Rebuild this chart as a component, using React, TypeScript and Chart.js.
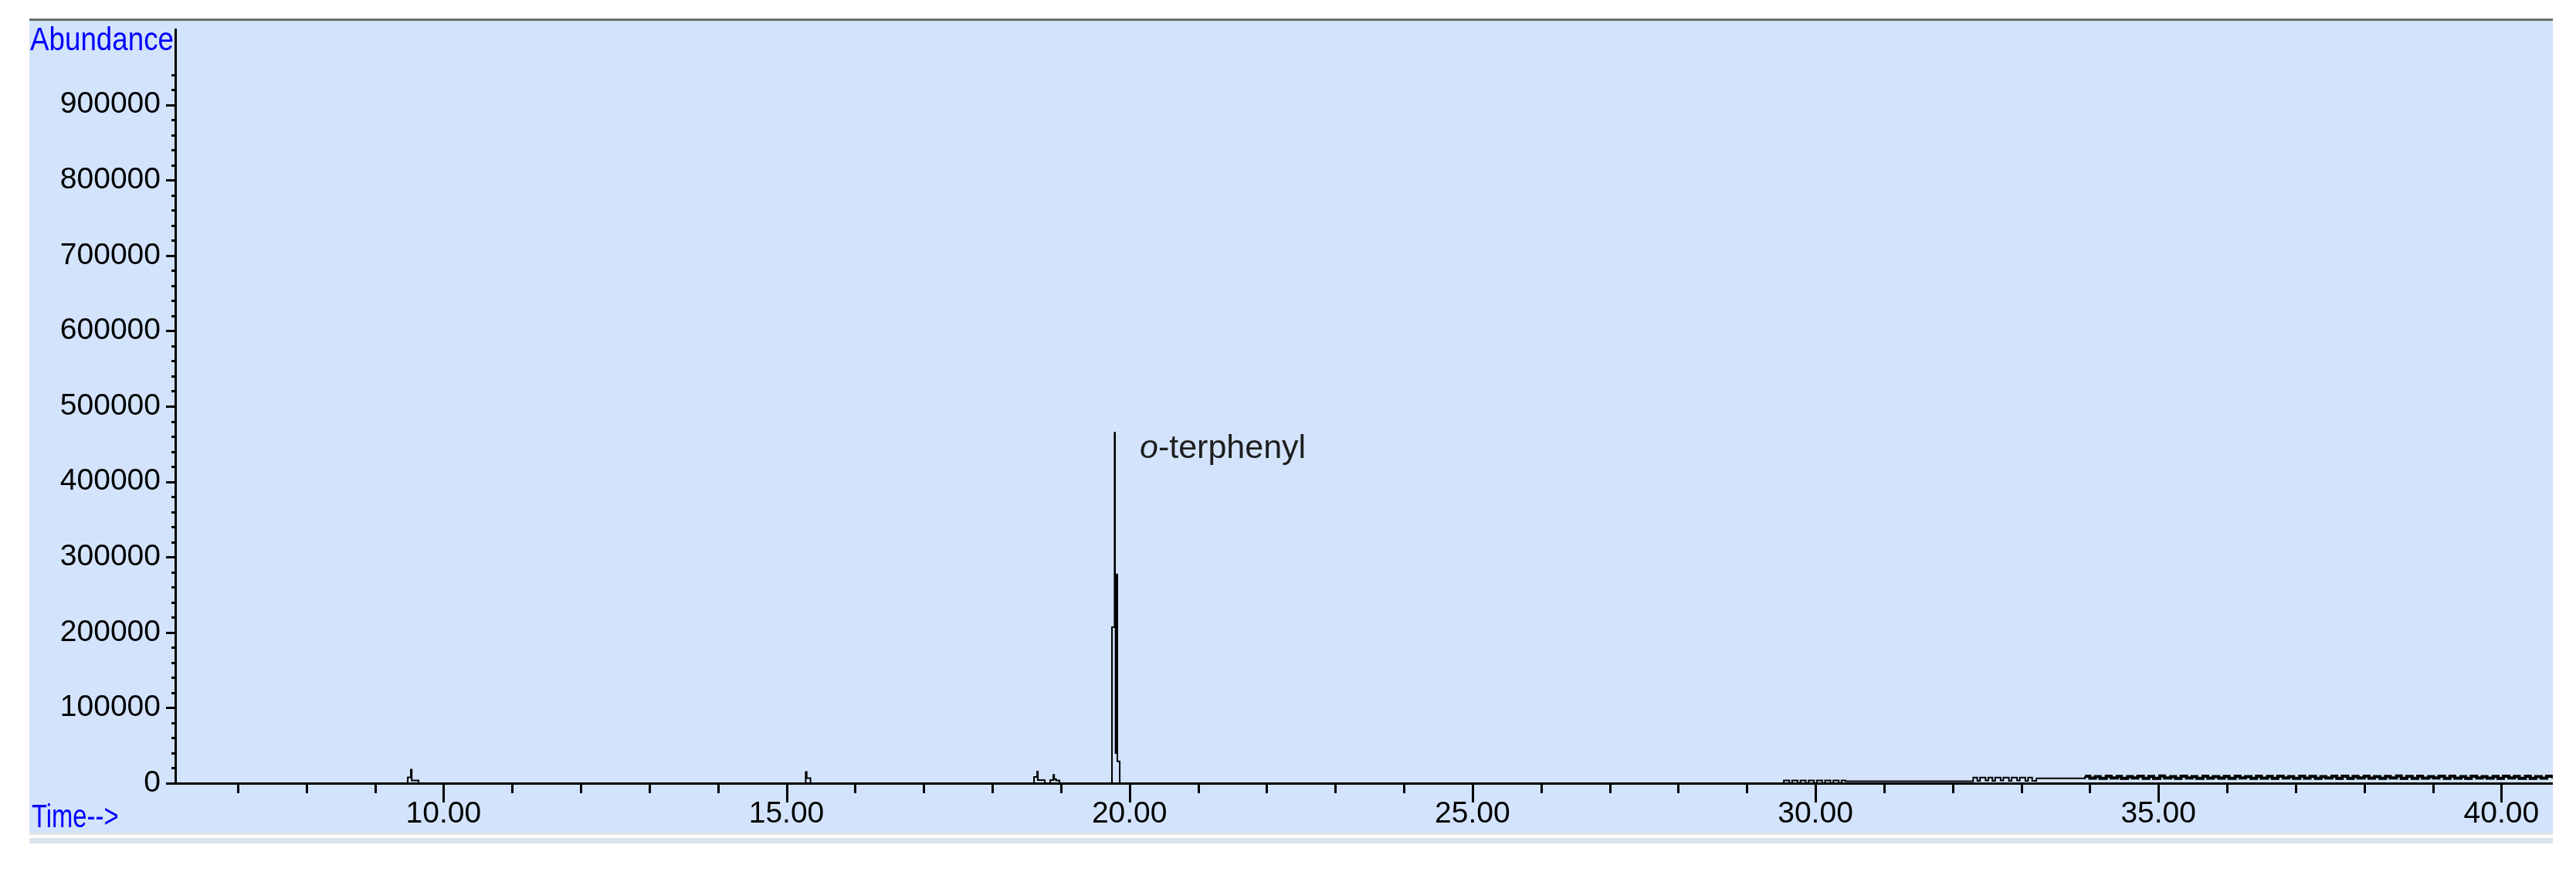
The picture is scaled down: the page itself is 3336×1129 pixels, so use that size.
import React, { useEffect, useRef } from 'react';
import { Chart, registerables } from 'chart.js';

Chart.register(...registerables);

// ---- data (retention time in minutes, abundance) ----
const earlyTimes = [6.09, 9.479, 9.524, 9.537, 9.637, 15.28, 15.295, 15.35, 18.609, 18.654, 18.665, 18.766, 18.845, 18.89, 18.902, 18.93, 18.98];
const earlyAbundance = [0, 7700, 17900, 3600, 0, 14800, 6700, 0, 8200, 15400, 4100, 0, 4100, 11000, 5500, 3500, 0];

const peakTimes = [19.745, 19.783, 19.79, 19.797, 19.803, 19.81, 19.816, 19.823, 19.858];
const peakAbundance = [207000, 465000, 277000, 40000, 277000, 40000, 277000, 29000, 0];

const midTimes = [29.54, 29.62, 29.66, 29.74, 29.78, 29.86, 29.9, 29.98, 30.02, 30.1, 30.14, 30.22, 30.26, 30.34, 30.38, 30.44,
  32.3, 32.36, 32.4, 32.48, 32.52, 32.58, 32.62, 32.7, 32.74, 32.82, 32.86, 32.94, 32.98, 33.06, 33.1, 33.16, 33.22];
const midAbundance = [3500, 0, 3500, 0, 3500, 0, 3500, 0, 3500, 0, 3500, 0, 3500, 0, 3500, 2500,
  7500, 3000, 7500, 3500, 7500, 3000, 7500, 3500, 7500, 3000, 7500, 3500, 7500, 3000, 7500, 3000, 6500];

const lateTimes = [33.93, 34.0, 34.08, 34.15, 34.24, 34.31, 34.4, 34.46, 34.55, 34.62,
  34.7, 34.78, 34.86, 34.93, 35.02, 35.09, 35.18, 35.25, 35.33, 35.41,
  35.49, 35.56, 35.65, 35.72, 35.8, 35.88, 35.96, 36.03, 36.12, 36.19,
  36.27, 36.35, 36.43, 36.5, 36.59, 36.66, 36.74, 36.82, 36.9, 36.97,
  37.06, 37.13, 37.21, 37.29, 37.37, 37.44, 37.53, 37.6, 37.68, 37.76,
  37.84, 37.91, 38.0, 38.07, 38.15, 38.23, 38.31, 38.38, 38.47, 38.54,
  38.62, 38.7, 38.78, 38.85, 38.94, 39.01, 39.09, 39.17, 39.25, 39.32,
  39.41, 39.48, 39.56, 39.64, 39.72, 39.79, 39.88, 39.95, 40.03, 40.11,
  40.19, 40.26, 40.35, 40.42, 40.5, 40.58, 40.66, 40.75];
const lateAbundance = [9200, 6600, 8800, 6400, 9100, 6900, 9000, 6300, 8700, 7000,
  9300, 6500, 8900, 6400, 9400, 6800, 8600, 6500, 9100, 6900,
  8800, 6300, 9200, 6700, 8700, 6600, 9000, 6400, 9300, 7000,
  8800, 6300, 9300, 6600, 8900, 6500, 9100, 6900, 8600, 6400,
  9200, 6700, 9000, 6300, 8800, 6900, 9100, 6500, 9300, 6400,
  8900, 6800, 9200, 6600, 8700, 6300, 9000, 6900, 9400, 6500,
  8900, 6400, 9100, 6700, 8600, 7000, 9100, 6400, 9300, 6700,
  8800, 6300, 9200, 6800, 8800, 6600, 9000, 6300, 9200, 6900,
  8900, 6500, 9100, 6400, 8700, 6700, 9200, 6500];

// ---- axes ----
const xMin = 6.09;
const xMax = 40.75;
const yMin = 0;
const yMax = 1000000;
const xTickValues = [7, 8, 9, 10, 11, 12, 13, 14, 15, 16, 17, 18, 19, 20, 21, 22, 23, 24, 25, 26, 27, 28, 29, 30, 31, 32, 33, 34, 35, 36, 37, 38, 39, 40];
const xMajorTicks = [10, 15, 20, 25, 30, 35, 40];
const xTickLabels = ['10.00', '15.00', '20.00', '25.00', '30.00', '35.00', '40.00'];
const yMajorTicks = [0, 100000, 200000, 300000, 400000, 500000, 600000, 700000, 800000, 900000];
const yTickLabels = ['0', '100000', '200000', '300000', '400000', '500000', '600000', '700000', '800000', '900000'];
const yMinorStep = 20000;
const yMinorTop = 940000;

const peakLabelTime = 20.15;
const peakLabelAbundance = 431000;
const noisyBandStart = 33.9;

const SANS = "'Liberation Sans', Arial, sans-serif";

function buildPoints() {
  const pts: { x: number; y: number }[] = [];
  const add = (t: number[], v: number[]) => t.forEach((tt, i) => pts.push({ x: tt, y: v[i] }));
  add(earlyTimes, earlyAbundance);
  add(peakTimes, peakAbundance);
  add(midTimes, midAbundance);
  add(lateTimes, lateAbundance);
  return pts;
}

function condensedText(ctx: CanvasRenderingContext2D, text: string, x: number, y: number, sx: number) {
  ctx.save();
  ctx.translate(x, y);
  ctx.scale(sx, 1);
  ctx.fillText(text, 0, 0);
  ctx.restore();
}

const decorPlugin = {
  id: 'chromDecor',
  afterDraw(chart: any) {
    const { ctx, chartArea, scales } = chart;
    const xs = scales.x;
    const ys = scales.y;
    ctx.save();
    ctx.strokeStyle = '#000';
    ctx.lineWidth = 3;
    ctx.lineCap = 'butt';
    // x ticks
    for (const v of xTickValues) {
      const px = Math.round(xs.getPixelForValue(v)) + 0.5;
      const len = xMajorTicks.includes(v) ? 25 : 13;
      ctx.beginPath();
      ctx.moveTo(px, chartArea.bottom);
      ctx.lineTo(px, chartArea.bottom + len);
      ctx.stroke();
    }
    // y ticks
    for (let v = 0; v <= yMinorTop; v += yMinorStep) {
      const py = Math.round(ys.getPixelForValue(v)) + 0.5;
      const len = yMajorTicks.includes(v) ? 12 : 5;
      ctx.beginPath();
      ctx.moveTo(chartArea.left, py);
      ctx.lineTo(chartArea.left - len, py);
      ctx.stroke();
    }
    // axis captions
    ctx.fillStyle = '#0000FF';
    ctx.font = `42px ${SANS}`;
    ctx.textBaseline = 'alphabetic';
    ctx.textAlign = 'left';
    condensedText(ctx, 'Abundance', 1, 38, 0.875);
    condensedText(ctx, 'Time-->', 3, 1044, 0.78);
    // peak annotation
    const ax = xs.getPixelForValue(peakLabelTime);
    const ay = ys.getPixelForValue(peakLabelAbundance);
    ctx.fillStyle = '#1e1e1e';
    ctx.font = `italic 43px ${SANS}`;
    ctx.fillText('o', ax, ay);
    const w = ctx.measureText('o').width;
    ctx.font = `43px ${SANS}`;
    ctx.fillText('-terphenyl', ax + w, ay);
    ctx.restore();
  },
};

function ChromChart() {
  const ref = useRef<HTMLCanvasElement | null>(null);
  useEffect(() => {
    if (!ref.current) return;
    const chart = new Chart(ref.current, {
      type: 'line',
      data: {
        datasets: [
          {
            data: buildPoints(),
            borderColor: '#000',
            borderWidth: 2,
            pointRadius: 0,
            stepped: 'before',
            tension: 0,
            fill: false,
            segment: {
              borderWidth: (c: any) => (c.p0.parsed.x >= noisyBandStart ? 4 : 2),
            },
          },
        ],
      },
      options: {
        animation: false,
        responsive: false,
        devicePixelRatio: 1,
        layout: { padding: { top: 11, left: 0, right: 0, bottom: 0 } },
        plugins: { legend: { display: false }, tooltip: { enabled: false } },
        events: [],
        scales: {
          x: {
            type: 'linear',
            min: xMin,
            max: xMax,
            afterBuildTicks: (scale: any) => {
              scale.ticks = xTickValues.map((v) => ({ value: v }));
            },
            afterFit: (scale: any) => {
              scale.height = 64;
              scale.paddingLeft = 0;
              scale.paddingRight = 0;
            },
            grid: { display: true, drawOnChartArea: false, drawTicks: true, tickLength: 10, color: 'rgba(0,0,0,0)' },
            border: { display: true, color: '#000', width: 3 },
            ticks: {
              autoSkip: false,
              maxRotation: 0,
              padding: 7,
              color: '#000',
              font: { family: SANS, size: 39 },
              callback: (value: any) => {
                const i = xMajorTicks.indexOf(Number(value));
                return i >= 0 ? xTickLabels[i] : null;
              },
            },
          },
          y: {
            type: 'linear',
            min: yMin,
            max: yMax,
            afterFit: (scale: any) => {
              scale.width = 189;
              scale.paddingTop = 0;
              scale.paddingBottom = 0;
            },
            grid: { display: true, drawOnChartArea: false, drawTicks: true, tickLength: 12, color: 'rgba(0,0,0,0)' },
            border: { display: true, color: '#000', width: 3 },
            ticks: {
              stepSize: 100000,
              autoSkip: false,
              padding: 7,
              color: '#000',
              font: { family: SANS, size: 39 },
              callback: (value: any) => {
                const i = yMajorTicks.indexOf(Number(value));
                return i >= 0 ? yTickLabels[i] : null;
              },
            },
          },
        },
      },
      plugins: [decorPlugin],
    } as any);
    return () => chart.destroy();
  }, []);
  return (
    <canvas
      ref={ref}
      width={3268}
      height={1051}
      style={{ position: 'absolute', left: 38, top: 27, width: 3268, height: 1051, background: 'rgb(211,227,252)' }}
    />
  );
}

export default function App() {
  return (
    <div style={{ position: 'absolute', left: 0, top: 0, width: 3336, height: 1129, background: '#fff', overflow: 'hidden' }}>
      <div style={{ position: 'absolute', left: 38, top: 24, width: 3268, height: 3, background: '#6e6e6e' }} />
      <ChromChart />
      <div style={{ position: 'absolute', left: 38, top: 1078, width: 3268, height: 3, background: '#e3e3e3' }} />
      <div style={{ position: 'absolute', left: 38, top: 1085, width: 3268, height: 7, background: '#d8e4f0' }} />
    </div>
  );
}
